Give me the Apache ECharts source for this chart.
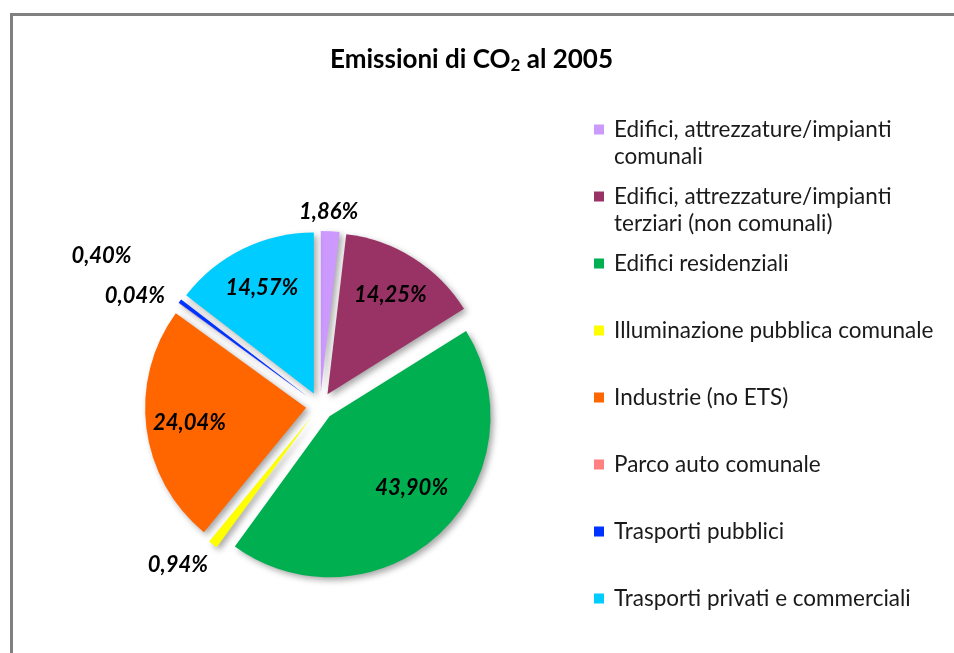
<!DOCTYPE html>
<html>
<head>
<meta charset="utf-8">
<script src="https://cdn.jsdelivr.net/npm/echarts@6/dist/echarts.min.js"></script>
<style>html,body{margin:0;padding:0;background:#fff}#c{width:954px;height:653px}</style>
</head>
<body>
<div id="c"></div>
<script>
// ---- data ----
var categories = [
  'Edifici, attrezzature/impianti comunali',
  'Edifici, attrezzature/impianti terziari (non comunali)',
  'Edifici residenziali',
  'Illuminazione pubblica comunale',
  'Industrie (no ETS)',
  'Parco auto comunale',
  'Trasporti pubblici',
  'Trasporti privati e commerciali'
];
var values = [1.86, 14.25, 43.90, 0.94, 24.04, 0.04, 0.40, 14.57];
var titleParts = ['Emissioni di CO', '2', ' al 2005'];

// ---- styles ----
var colors = ['#cc99ff', '#993366', '#00b050', '#ffff00', '#ff6600', '#ff8080', '#0033ff', '#00ccff'];
var legendBreaks = {
  'Edifici, attrezzature/impianti comunali': 'Edifici, attrezzature/impianti\ncomunali',
  'Edifici, attrezzature/impianti terziari (non comunali)': 'Edifici, attrezzature/impianti\nterziari (non comunali)'
};
// small nudges of data labels (label placement only)
var innerLabelNudge = { 2: [2, -14] };
var outerLabelNudge = { 0: [-3, 4], 3: [-21, 2], 5: [-25, 6], 6: [-60, -31] };
var FONT = "Lato, 'Open Sans', sans-serif";
var R = 161, CX = 320, CY = 406, OFF = 14;

function fmt(v) { return v.toFixed(2).replace('.', ',') + '%'; }
function nudge(map) {
  return function (p) {
    var s = map[p.dataIndex];
    return s ? { dx: s[0], dy: s[1] } : {};
  };
}

var chart = echarts.init(document.getElementById('c'), null, { renderer: 'canvas' });

function baseData(transparent) {
  return categories.map(function (n, i) {
    return { name: n, value: values[i], selected: true,
      itemStyle: { color: transparent ? 'rgba(0,0,0,0)' : colors[i] } };
  });
}

var labelStyle = { fontFamily: FONT, fontSize: 22, fontWeight: 'bold', fontStyle: 'italic', color: '#000' };

var option = {
  animation: false,
  backgroundColor: '#fff',
  graphic: [{
    type: 'rect', shape: { x: 11.5, y: 14.5, width: 1000, height: 700 },
    style: { fill: 'none', stroke: '#808080', lineWidth: 3 }, silent: true, z: 100
  }],
  title: {
    text: '{a|' + titleParts[0] + '}{b|' + titleParts[1] + '}{a|' + titleParts[2] + '}',
    left: 325, top: 38,
    textStyle: {
      rich: {
        a: { fontFamily: FONT, fontSize: 26, fontWeight: 'bold', color: '#000', lineHeight: 34 },
        b: { fontFamily: FONT, fontSize: 17, fontWeight: 'bold', color: '#000', lineHeight: 34, padding: [12, 0, 0, 0] }
      }
    }
  },
  legend: {
    orient: 'vertical', left: 594, top: 116, padding: 0,
    itemWidth: 10, itemHeight: 54, itemGap: 13,
    icon: 'path://M0,0h10v0h-10zM0,8.5h10v10h-10zM0,54h10v0h-10z',
    itemStyle: { borderWidth: 0 },
    selectedMode: false,
    data: categories,
    formatter: function (n) { return legendBreaks[n] ? legendBreaks[n] : n + '\n '; },
    textStyle: { fontFamily: FONT, fontSize: 22.5, color: '#1a1a1a', lineHeight: 27, padding: [0, 0, 0, 5] }
  },
  series: [
    {
      type: 'pie', name: 'main', center: [CX, CY], radius: [0, R],
      startAngle: 90, clockwise: true,
      selectedMode: 'multiple', selectedOffset: OFF,
      label: { show: false }, labelLine: { show: false },
      itemStyle: { shadowBlur: 6, shadowOffsetX: 3, shadowOffsetY: 3, shadowColor: 'rgba(0,0,0,0.35)' },
      select: { itemStyle: { borderWidth: 0 } },
      emphasis: { disabled: true },
      data: baseData(false)
    },
    {
      type: 'pie', name: 'inner-labels', center: [CX, CY], radius: [68, R],
      startAngle: 90, clockwise: true, silent: true, legendHoverLink: false,
      selectedMode: 'multiple', selectedOffset: OFF,
      select: { itemStyle: { borderWidth: 0 } },
      emphasis: { disabled: true },
      label: Object.assign({ show: true, position: 'inside', formatter: function (p) { return p.value >= 5 ? fmt(p.value) : ''; } }, labelStyle),
      labelLine: { show: false },
      labelLayout: nudge(innerLabelNudge),
      data: baseData(true)
    },
    {
      type: 'pie', name: 'outer-labels', center: [CX, CY], radius: [R, R + 40],
      startAngle: 90, clockwise: true, silent: true, legendHoverLink: false,
      selectedMode: 'multiple', selectedOffset: OFF,
      select: { itemStyle: { borderWidth: 0 } },
      emphasis: { disabled: true },
      label: Object.assign({ show: true, position: 'inside', formatter: function (p) { return p.value < 5 ? fmt(p.value) : ''; } }, labelStyle),
      labelLine: { show: false },
      labelLayout: nudge(outerLabelNudge),
      data: baseData(true)
    }
  ]
};
chart.setOption(option);
</script>
</body>
</html>
